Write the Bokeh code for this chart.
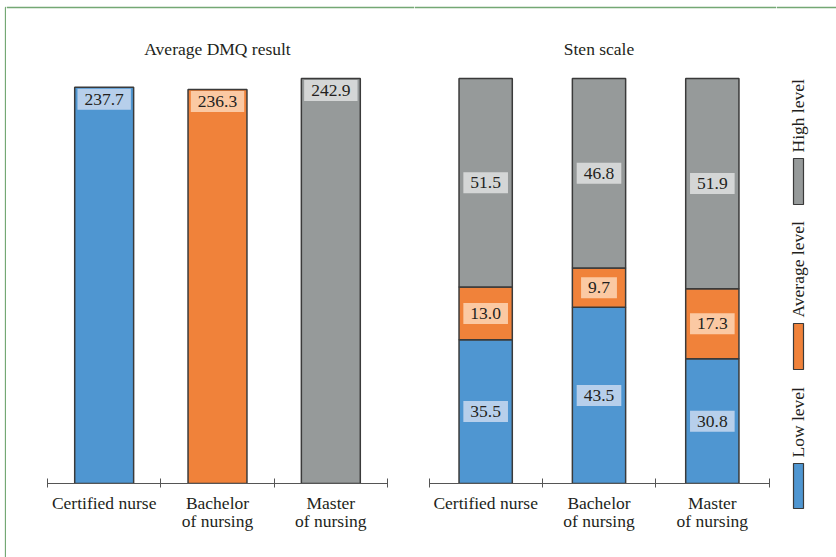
from math import pi

from bokeh.core.properties import value
from bokeh.embed import file_html
from bokeh.layouts import row
from bokeh.models import ColumnDataSource, FixedTicker, Range1d
from bokeh.plotting import figure
from bokeh.resources import INLINE

# ---- data -------------------------------------------------------------
categories = ["Certified nurse", "Bachelor\nof nursing", "Master\nof nursing"]
dmq_average = [237.7, 236.3, 242.9]          # average DMQ result
sten_low = [35.5, 43.5, 30.8]                # sten scale, % low level
sten_average = [13.0, 9.7, 17.3]             # sten scale, % average level
sten_high = [51.5, 46.8, 51.9]               # sten scale, % high level
levels = ["Low level", "Average level", "High level"]
panel_titles = ["Average DMQ result", "Sten scale"]

# ---- style ------------------------------------------------------------
BLUE, ORANGE, GRAY = "#4f96d1", "#f0823a", "#969a9a"
BLUE_L, ORANGE_L, GRAY_L = "#b7cfeb", "#fbc9a3", "#d4d6d6"
EDGE = "#3a3a3a"
INK = "#231f20"
AXIS = "#555555"
FRAME_GREEN = "#74a874"
FONT = "Liberation Serif"
FS = "17.5px"

H = 557
AXIS_Y = 483            # pixel row of the category axis
TOP_Y = 78              # pixel row reached by the tallest bar
CAT_PX = 340 / 3        # pixel width of one category slot
STRIP_W = 6             # narrow strip carrying the left page rule

xs = [i + 0.5 for i in range(len(categories))]
edges = list(range(len(categories) + 1))
labels = {x: c for x, c in zip(xs, categories)}


def bare_strip(width):
    """A full-height figure in pixel coordinates (y grows downwards)."""
    s = figure(
        width=width, height=H, x_range=Range1d(0, width), y_range=Range1d(H, 0),
        output_backend="svg", toolbar_location=None,
        x_axis_location=None, y_axis_location=None, min_border=0,
    )
    s.frame_align = False
    s.outline_line_color = None
    s.xgrid.visible = False
    s.ygrid.visible = False
    return s


def make_panel(width, left_pad, y_max, title):
    ppu = (AXIS_Y - TOP_Y) / y_max
    p = figure(
        width=width, height=H,
        x_range=Range1d(-left_pad / CAT_PX, (width - left_pad) / CAT_PX),
        y_range=Range1d(0, AXIS_Y / ppu),
        output_backend="svg", toolbar_location=None,
        y_axis_location=None,
        min_border_left=0, min_border_right=0, min_border_top=0,
        min_border_bottom=H - AXIS_Y,
    )
    p.outline_line_color = None
    p.xgrid.visible = False
    p.ygrid.visible = False
    p.background_fill_color = "white"
    p.border_fill_color = "white"

    ax = p.xaxis[0]
    ax.ticker = FixedTicker(ticks=xs, minor_ticks=edges)
    ax.bounds = (0, len(categories))
    ax.major_label_overrides = labels
    ax.major_tick_in = 0
    ax.major_tick_out = 0
    ax.minor_tick_in = 5
    ax.minor_tick_out = 4
    ax.minor_tick_line_color = AXIS
    ax.axis_line_color = AXIS
    ax.axis_line_width = 1
    ax.major_label_text_font = FONT
    ax.major_label_text_font_size = FS
    ax.major_label_text_color = INK
    ax.major_label_text_line_height = 0.92
    ax.major_label_standoff = 5

    p.text(x=[len(categories) / 2], y=[(AXIS_Y - 48) / ppu], text=[title],
           text_font=value(FONT), text_font_size=FS, text_color=INK,
           text_align="center", text_baseline="middle")

    # thin green page rule along the top
    p.hspan(y=[(AXIS_Y - 7) / ppu], line_color=FRAME_GREEN, line_width=1.3)
    return p, ppu


label_pad = (7, 5)

# ---- left page rule -------------------------------------------------
strip = bare_strip(STRIP_W)
strip.line(x=[5, 5, STRIP_W], y=[H, 7, 7], line_color=FRAME_GREEN, line_width=1.3)

# ---- left panel: average DMQ result ----------------------------------
left, _ = make_panel(414 - STRIP_W, 47 - STRIP_W, max(dmq_average), panel_titles[0])

dmq_src = ColumnDataSource(dict(
    x=xs, top=dmq_average,
    fill=[BLUE, ORANGE, GRAY], light=[BLUE_L, ORANGE_L, GRAY_L],
    txt=[f"{v:.1f}" for v in dmq_average],
))
left.vbar(x="x", top="top", width=0.52, fill_color="fill",
          line_color=EDGE, line_width=1.5, source=dmq_src)
left.text(x="x", y="top", text="txt", y_offset=12, source=dmq_src,
          text_font=value(FONT), text_font_size=FS, text_color=INK,
          text_align="center", text_baseline="middle",
          background_fill_color="light", padding=label_pad)

# ---- right panel: sten scale (stacked) --------------------------------
right, _ = make_panel(362, 14.5, 100, panel_titles[1])

sten_src = ColumnDataSource(dict(
    x=xs, low=sten_low, avg=sten_average, high=sten_high,
))
right.vbar_stack(["low", "avg", "high"], x="x", width=0.47,
                 fill_color=[BLUE, ORANGE, GRAY], line_color=EDGE,
                 line_width=1.5, source=sten_src)

seg_x, seg_y, seg_txt, seg_light = [], [], [], []
for i, x in enumerate(xs):
    base = 0.0
    for v, light in zip((sten_low[i], sten_average[i], sten_high[i]),
                        (BLUE_L, ORANGE_L, GRAY_L)):
        seg_x.append(x)
        seg_y.append(base + v / 2)
        seg_txt.append(f"{v:.1f}")
        seg_light.append(light)
        base += v
right.text(x=seg_x, y=seg_y, text=seg_txt,
           text_font=value(FONT), text_font_size=FS, text_color=INK,
           text_align="center", text_baseline="middle",
           background_fill_color=seg_light, padding=label_pad)

# ---- legend strip (pixel coordinates, y downwards) --------------------
leg = bare_strip(60)
leg.hspan(y=[7], line_color=FRAME_GREEN, line_width=1.3)

swatch_top = [463, 323, 158]
swatch_bottom = [508, 369, 204]
leg.quad(left=17, right=27, top=swatch_top, bottom=swatch_bottom,
         fill_color=[BLUE, ORANGE, GRAY], line_color=EDGE, line_width=1.2)
leg.text(x=21, y=[t - 6 for t in swatch_top], text=levels, angle=pi / 2,
         text_font=value(FONT), text_font_size=FS, text_color=INK,
         text_align="left", text_baseline="alphabetic")

layout = row(strip, left, right, leg)
open("out.html", "w").write(file_html(layout, INLINE))
